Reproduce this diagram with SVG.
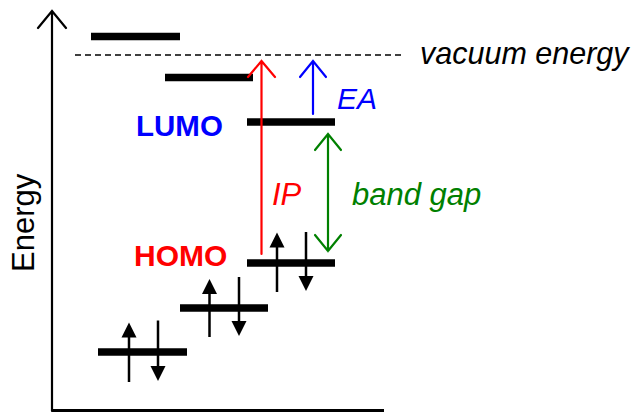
<svg xmlns="http://www.w3.org/2000/svg" width="639" height="413" viewBox="0 0 639 413">
<style>
.lvl{stroke:#000;stroke-width:7.5;fill:none}
.spin{stroke:#000;stroke-width:2.5;fill:none}
.head{fill:#000}
.open{fill:none;stroke-width:2.2;stroke-linecap:round;stroke-linejoin:miter}
.lbl{font-family:"Liberation Sans",Arial,sans-serif}
.it{font-style:italic}
.b{font-weight:bold}
</style>
<rect width="639" height="413" fill="#fff"/>
<g id="axes">
<path d="M52,411 V11 M38,28 L52,11 L66,28" class="open" stroke="#000" stroke-width="3"/>
<path d="M52,410.5 H384" stroke="#000" stroke-width="3"/>
<text class="lbl" font-size="31" transform="translate(34,272) rotate(-90)" fill="#000">Energy</text>
</g>
<g id="vacuum">
<line x1="75" y1="55" x2="401" y2="55" stroke="#000" stroke-width="1.5" stroke-dasharray="6,4"/>
<text class="lbl it" x="420" y="64" font-size="30.5" fill="#000">vacuum energy</text>
</g>
<g id="level-top"><line class="lvl" x1="91" y1="36.5" x2="180" y2="36.5"/></g>
<g id="level-upper"><line class="lvl" x1="165" y1="77.5" x2="253" y2="77.5"/></g>
<g id="lumo">
<line class="lvl" x1="247" y1="122" x2="335" y2="122"/>
<text class="lbl b" x="136" y="136" font-size="29.5" fill="#0000ff">LUMO</text>
</g>
<g id="homo">
<line class="lvl" x1="247" y1="263" x2="335" y2="263"/>
<text class="lbl b" x="134" y="266" font-size="30" fill="#ff0000">HOMO</text>
<path class="spin" d="M277,292 V245"/><path class="head" d="M277,232.5 L284.5,247.5 L269.5,247.5 Z"/>
<path class="spin" d="M306,232 V278"/><path class="head" d="M306,291 L313.5,276 L298.5,276 Z"/>
</g>
<g id="level-2">
<line class="lvl" x1="180" y1="308" x2="268" y2="308"/>
<path class="spin" d="M209.5,337 V292"/><path class="head" d="M209.5,279 L217,294 L202,294 Z"/>
<path class="spin" d="M239,277 V323"/><path class="head" d="M239,336 L246.5,321 L231.5,321 Z"/>
</g>
<g id="level-1">
<line class="lvl" x1="98" y1="352" x2="187" y2="352"/>
<path class="spin" d="M129,382 V336"/><path class="head" d="M129,322.5 L136.5,337.5 L121.5,337.5 Z"/>
<path class="spin" d="M158,320.5 V367"/><path class="head" d="M158,381 L165.5,366 L150.5,366 Z"/>
</g>
<g id="connectors">
<g stroke="#ff0000" class="open">
<path d="M261.5,254 V61 M248,77 L261.5,61 L275,77"/>
</g>
<g stroke="#0000ff" class="open">
<path d="M313,114 V61 M300,77 L313,61 L326,77"/>
</g>
<g stroke="#008000" class="open">
<path d="M328,134 V251 M315,150 L328,134 L341,150 M315,235 L328,251 L341,235"/>
</g>
<text class="lbl it" x="272" y="205" font-size="31" fill="#ff0000">IP</text>
<text class="lbl it" x="337" y="109" font-size="30" fill="#0000ff">EA</text>
<text class="lbl it" x="352" y="205" font-size="31" fill="#008000">band gap</text>
</g>
</svg>
